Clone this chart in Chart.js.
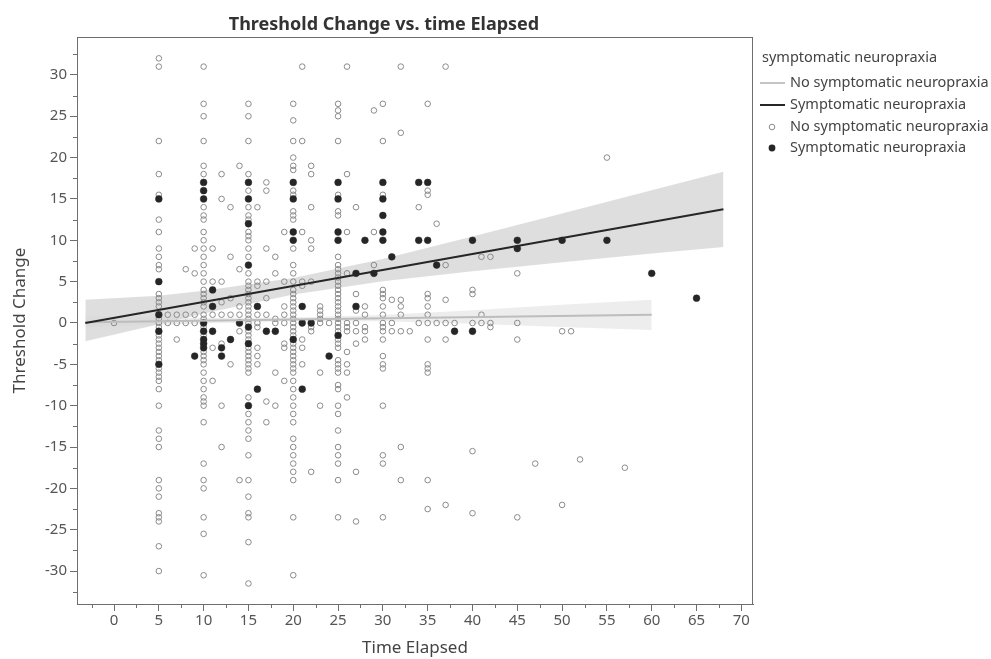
<!DOCTYPE html>
<html>
<head>
<meta charset="utf-8">
<script src="https://cdn.jsdelivr.net/npm/chart.js@4.4.1/dist/chart.umd.min.js"></script>
<style>
  html, body { margin: 0; padding: 0; background: #fff; }
  #wrap { width: 991px; height: 659px; }
</style>
</head>
<body>
<div id="wrap"><canvas id="chart"></canvas></div>
<script>
// Threshold change values of the non-symptomatic group, stacked at the common time points
const noSymAt5 = [32, 31, 22, 18, 15.5, 12.5, 11, 9, 8, 7, 6.5, 3.5, 3, 2.5, 2, 0.5, 0, -0.5, -1.5, -2, -2.5, -3, -3.5, -4, -4.5, -5.5, -6, -6.5, -7, -8, -10, -13, -14, -15, -19, -20, -21, -23, -23.5, -24, -27, -30];
const noSymAt10 = [31, 26.5, 25, 22, 19, 18, 14, 13, 12.5, 11, 10, 9, 8, 7, 6, 5, 4, 3.5, 3, 2.5, 2, 1, 0.5, -0.5, -1.5, -3.5, -4, -4.5, -5, -6, -7, -8, -9, -9.5, -10, -12, -17, -19, -20, -23.5, -25.5, -30.5];
const noSymAt15 = [26.5, 25, 22, 18, 16, 14, 13, 12.5, 11, 10.5, 10, 9, 8, 6, 5, 4.5, 4, 3.5, 3, 2.5, 2, 1.5, 1, 0.5, 0, -1, -1.5, -2, -3, -3.5, -4, -4.5, -5, -5.5, -6, -9, -11, -12, -13, -14, -16, -19, -21, -23, -23.5, -26.5, -31.5];
const noSymAt20 = [26.5, 24.5, 22, 20, 19, 18.5, 16, 15.5, 13.5, 13, 12.5, 9, 7, 6, 5, 4, 3.5, 3, 2.5, 2, 1.5, 1, 0.5, 0, -0.5, -1, -1.5, -2.5, -3, -3.5, -4, -4.5, -5, -5.5, -6, -7, -8, -9, -10, -11, -12, -14, -15, -16, -17, -18, -19, -23.5, -30.5];
const noSymAt25 = [26.5, 25.7, 25, 22, 15.5, 13.5, 13, 8, 7, 6.5, 6, 5.5, 5, 4.5, 4, 3.5, 3, 2.5, 2, 1.5, 1, 0.5, 0, -0.5, -1, -2, -2.5, -3, -4.5, -5, -5.5, -6, -7.5, -8, -10, -11, -13, -15, -16, -17, -19, -23.5];
const noSymAt30 = [26.5, 22, 15.5, 4, 3.5, 3, 2, 1, 0, -0.5, -1, -2, -4, -5, -5.5, -10, -16, -17, -23.5];

// remaining non-symptomatic points [time, change]
const noSymOther = [
  [0, 0],
  [6, 1], [7, 1], [8, 1], [9, 1], [6, 0], [7, 0], [8, 0], [9, 0], [7, -2],
  [8, 6.5], [9, 6], [9, 9],
  [11, 9], [11, 5], [11, 1], [11, -3], [11, -7],
  [12, 18], [12, 15], [12, 5], [12, 2.5], [12, 1], [12, -2.5], [12, -10], [12, -15],
  [13, 14], [13, 8], [13, 3], [13, 1], [13, -5],
  [14, 19], [14, 6.5], [14, 2], [14, 1], [14, -1], [14, -19],
  [16, 14], [16, 5], [16, 4.5], [16, 1], [16, 0], [16, -0.5], [16, -3], [16, -4], [16, -5],
  [17, 17], [17, 16], [17, 9], [17, 5], [17, 3], [17, 1], [17, -9.5], [17, -12],
  [18, 8], [18, 6], [18, 0.5], [18, 0], [18, -6], [18, -10],
  [19, 11], [19, 5], [19, 2], [19, 1], [19, 0], [19, -2.5], [19, -3], [19, -7],
  [21, 31], [21, 22], [21, 11], [21, 5], [21, 4.5], [21, -2], [21, -3], [21, -5],
  [22, 19], [22, 18], [22, 14], [22, 10], [22, 9], [22, 5], [22, -0.5], [22, -1], [22, -18],
  [23, 2], [23, 1.5], [23, 1], [23, 0.5], [23, 0], [23, -6], [23, -10],
  [24, 0],
  [26, 31], [26, 18], [26, 11], [26, 6], [26, 0], [26, -0.5], [26, -1], [26, -3.5], [26, -5], [26, -6], [26, -9],
  [27, 14], [27, 3.5], [27, 1.5], [27, 0], [27, -1], [27, -2.5], [27, -18], [27, -24],
  [28, 2], [28, 1], [28, -0.5], [28, -1], [28, -2],
  [29, 25.7], [29, 11], [29, 7],
  [31, 2.8], [31, 0], [31, -1],
  [32, 31], [32, 23], [32, 2.8], [32, 2], [32, 1], [32, -1], [32, -15], [32, -19],
  [33, -1],
  [34, 14], [34, 0],
  [35, 26.5], [35, 16], [35, 15.5], [35, 3.5], [35, 3], [35, 2], [35, 1], [35, 0], [35, -2], [35, -5], [35, -5.5], [35, -6], [35, -19], [35, -22.5],
  [36, 12], [36, 0],
  [37, 31], [37, 7], [37, 2.8], [37, 0], [37, -2], [37, -22],
  [38, 0],
  [40, 4], [40, 3.5], [40, 0], [40, -15.5], [40, -23],
  [41, 8], [41, 1], [41, 0],
  [42, 8], [42, 0], [42, -0.5],
  [45, 6], [45, 0], [45, -2], [45, -23.5],
  [47, -17], [50, -1], [50, -22], [51, -1], [52, -16.5], [55, 20], [57, -17.5]
];

// symptomatic neuropraxia points [time, change]
const symPoints = [
  [5, 15], [5, 5], [5, 1], [5, -1], [5, -5],
  [9, -4],
  [10, 17], [10, 16], [10, 15], [10, 0], [10, -1], [10, -2], [10, -2.5], [10, -3],
  [11, 4], [11, 2], [11, -1],
  [12, -3], [12, -4], [13, -2], [14, 0],
  [15, 17], [15, 15], [15, 12], [15, 7], [15, -0.5], [15, -2.5], [15, -10],
  [16, 2], [16, -8], [17, -1], [18, -1],
  [20, 17], [20, 15], [20, 11], [20, 10], [20, -2],
  [21, 2], [21, 0], [21, -8], [22, 0], [24, -4],
  [25, 17], [25, 15], [25, 11], [25, 10], [25, -1.5],
  [27, 6], [27, 2], [28, 10], [29, 6],
  [30, 17], [30, 15], [30, 13], [30, 11], [30, 10],
  [31, 8], [34, 17], [34, 10], [35, 17], [35, 10], [36, 7], [38, -1], [40, -1],
  [40, 10], [45, 10], [45, 9], [50, 10], [55, 10], [60, 6], [65, 3]
];

// fitted lines and confidence bands
const symFitX = [-3.2, 68];
const symFitY = [0, 13.75];
const symBandX = [-3.2, 5, 10, 20, 30, 40, 50, 60, 68];
const symBandHi = [2.8, 3.3, 3.9, 5.45, 7.75, 10.45, 13.25, 16.05, 18.3];
const symBandLo = [-2.2, -0.15, 1.15, 3.45, 5.05, 6.25, 7.35, 8.4, 9.2];

const noSymFitX = [-3.2, 60];
const noSymFitY = [0.1, 1.0];
const noSymBandX = [-3.2, 10, 20, 30, 40, 50, 60];
const noSymBandHi = [0.8, 0.6, 0.65, 0.95, 1.55, 2.2, 2.8];
const noSymBandLo = [-0.5, -0.05, 0.2, 0.2, -0.1, -0.5, -0.85];

const xTicks = [0, 5, 10, 15, 20, 25, 30, 35, 40, 45, 50, 55, 60, 65, 70];
const yTicks = [-30, -25, -20, -15, -10, -5, 0, 5, 10, 15, 20, 25, 30];

const FONT = "'Noto Sans', 'Open Sans', sans-serif";

function zipXY(xs, ys) {
  return xs.map((x, i) => ({ x: x, y: ys[i] }));
}

function column(x, ys) {
  return ys.map(y => ({ x: x, y: y }));
}

const noSymData = []
  .concat(column(5, noSymAt5), column(10, noSymAt10), column(15, noSymAt15))
  .concat(column(20, noSymAt20), column(25, noSymAt25), column(30, noSymAt30))
  .concat(noSymOther.map(p => ({ x: p[0], y: p[1] })));
const symData = symPoints.map(p => ({ x: p[0], y: p[1] }));

// frame, minor ticks, title and legend
const decorPlugin = {
  id: 'decor',
  afterDraw(chart) {
    const ctx = chart.ctx;
    const a = chart.chartArea;
    const xs = chart.scales.x;
    const ys = chart.scales.y;
    ctx.save();
    ctx.strokeStyle = '#6e6e6e';
    ctx.lineWidth = 1;
    ctx.strokeRect(a.left + 0.5, a.top + 0.5, a.right - a.left - 1, a.bottom - a.top);

    ctx.beginPath();
    for (let v = -32.5; v <= 32.5; v += 5) {
      const py = Math.round(ys.getPixelForValue(v)) + 0.5;
      ctx.moveTo(a.left - 4, py);
      ctx.lineTo(a.left, py);
    }
    for (let v = -2.5; v <= 70; v += 5) {
      const px = Math.round(xs.getPixelForValue(v)) + 0.5;
      ctx.moveTo(px, a.bottom);
      ctx.lineTo(px, a.bottom + 4);
    }
    ctx.stroke();

    ctx.fillStyle = '#333';
    ctx.font = "bold 18px " + FONT;
    ctx.textAlign = 'center';
    ctx.textBaseline = 'middle';
    ctx.fillText('Threshold Change vs. time Elapsed', 384, 25);

    // legend
    ctx.textAlign = 'left';
    ctx.font = "14.5px " + FONT;
    ctx.fillStyle = '#444';
    ctx.fillText('symptomatic neuropraxia', 762, 58);
    const items = [
      { y: 83, kind: 'line', color: '#c4c4c4', text: 'No symptomatic neuropraxia' },
      { y: 105, kind: 'line', color: '#262626', text: 'Symptomatic neuropraxia' },
      { y: 127, kind: 'open', color: '#8a8a8a', text: 'No symptomatic neuropraxia' },
      { y: 148, kind: 'dot', color: '#262626', text: 'Symptomatic neuropraxia' }
    ];
    items.forEach(it => {
      if (it.kind === 'line') {
        ctx.strokeStyle = it.color;
        ctx.lineWidth = 2;
        ctx.beginPath();
        ctx.moveTo(760, it.y);
        ctx.lineTo(785, it.y);
        ctx.stroke();
      } else {
        ctx.beginPath();
        ctx.arc(772, it.y, it.kind === 'open' ? 2.8 : 3.4, 0, Math.PI * 2);
        if (it.kind === 'open') {
          ctx.strokeStyle = it.color;
          ctx.lineWidth = 1;
          ctx.stroke();
        } else {
          ctx.fillStyle = it.color;
          ctx.fill();
        }
      }
      ctx.fillStyle = '#444';
      ctx.fillText(it.text, 790, it.y);
    });
    ctx.restore();
  }
};

new Chart(document.getElementById('chart'), {
  type: 'scatter',
  data: {
    datasets: [
      {
        label: 'symBandHi', data: zipXY(symBandX, symBandHi), showLine: true,
        pointRadius: 0, borderWidth: 0, borderColor: 'rgba(0,0,0,0)',
        backgroundColor: 'rgba(190,190,190,0.5)', fill: '+1', order: 5
      },
      {
        label: 'symBandLo', data: zipXY(symBandX, symBandLo), showLine: true,
        pointRadius: 0, borderWidth: 0, borderColor: 'rgba(0,0,0,0)', fill: false, order: 5
      },
      {
        label: 'noSymBandHi', data: zipXY(noSymBandX, noSymBandHi), showLine: true,
        pointRadius: 0, borderWidth: 0, borderColor: 'rgba(0,0,0,0)',
        backgroundColor: 'rgba(215,215,215,0.45)', fill: '+1', order: 4
      },
      {
        label: 'noSymBandLo', data: zipXY(noSymBandX, noSymBandLo), showLine: true,
        pointRadius: 0, borderWidth: 0, borderColor: 'rgba(0,0,0,0)', fill: false, order: 4
      },
      {
        label: 'No symptomatic neuropraxia', data: noSymData,
        pointRadius: 2.8, pointBorderWidth: 1, pointBorderColor: '#8a8a8a',
        pointBackgroundColor: 'rgba(255,255,255,0)', order: 3
      },
      {
        label: 'Symptomatic neuropraxia', data: symData,
        pointRadius: 3.4, pointBorderWidth: 0.5, pointBorderColor: '#262626',
        pointBackgroundColor: '#262626', order: 2
      },
      {
        label: 'noSymFit', data: zipXY(noSymFitX, noSymFitY), showLine: true,
        pointRadius: 0, borderWidth: 2, borderColor: '#bdbdbd', order: 1
      },
      {
        label: 'symFit', data: zipXY(symFitX, symFitY), showLine: true,
        pointRadius: 0, borderWidth: 2, borderColor: '#262626', order: 0
      }
    ]
  },
  options: {
    responsive: true,
    maintainAspectRatio: false,
    animation: false,
    layout: { padding: { top: 37, right: 238, left: 0, bottom: 0 } },
    plugins: {
      legend: { display: false },
      title: { display: false },
      tooltip: { enabled: false }
    },
    scales: {
      x: {
        type: 'linear', min: -4.13, max: 71.3,
        afterBuildTicks: s => { s.ticks = xTicks.map(v => ({ value: v })); },
        afterFit: s => { s.height = 55; },
        grid: { drawOnChartArea: false, tickLength: 7, color: '#6e6e6e', tickColor: '#6e6e6e' },
        border: { display: true, color: '#6e6e6e' },
        ticks: { color: '#555', font: { family: FONT, size: 15 }, padding: 1, maxRotation: 0, autoSkip: false },
        title: { display: true, text: 'Time Elapsed', color: '#444', font: { family: FONT, size: 17 }, padding: { top: 0, bottom: 1 } }
      },
      y: {
        type: 'linear', min: -33.98, max: 34.58,
        afterBuildTicks: s => { s.ticks = yTicks.map(v => ({ value: v })); },
        afterFit: s => { s.width = 77; },
        grid: { drawOnChartArea: false, tickLength: 7, color: '#6e6e6e', tickColor: '#6e6e6e' },
        border: { display: true, color: '#6e6e6e' },
        ticks: { color: '#555', font: { family: FONT, size: 15 }, padding: 3, autoSkip: false },
        title: { display: true, text: 'Threshold Change', color: '#444', font: { family: FONT, size: 17 }, padding: { top: 10, bottom: 0 } }
      }
    }
  },
  plugins: [decorPlugin]
});
</script>
</body>
</html>
